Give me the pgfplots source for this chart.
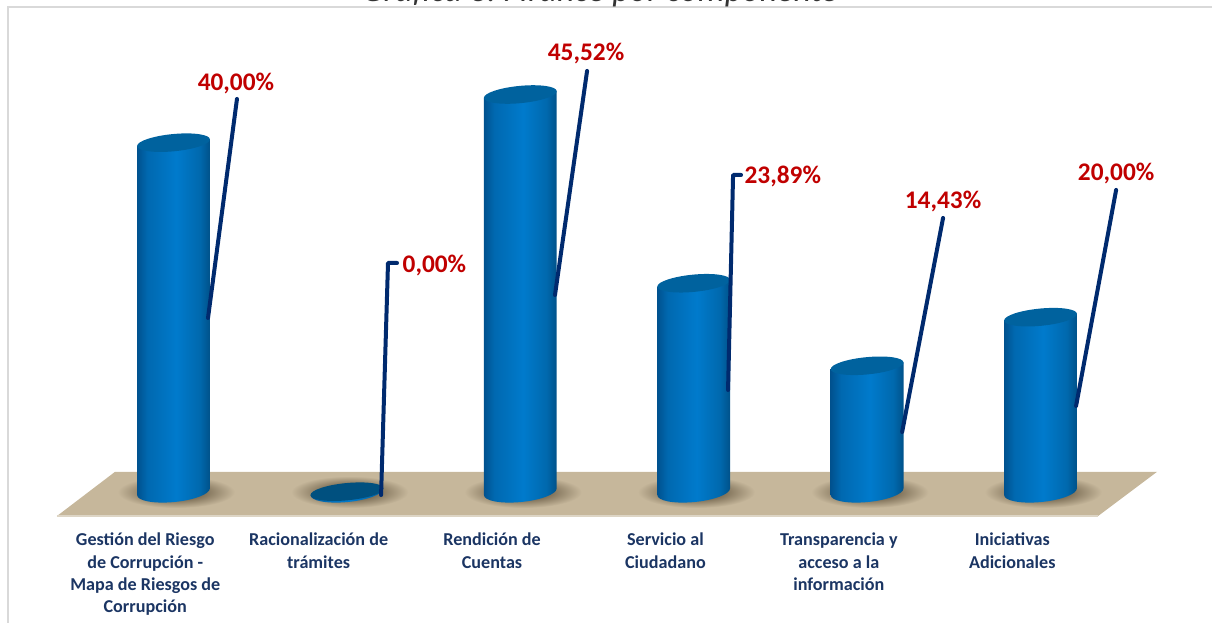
\documentclass[border=0pt]{standalone}
\usepackage{pgfplots}
\usepackage{pgfplotstable}
\pgfplotsset{compat=1.18}
\usepackage{fontspec}
\setmainfont{Carlito}

% 1 px of the reference = 0.75pt here
\definecolor{floorc}{HTML}{C6B79B}
\definecolor{floorrim}{HTML}{DDD5C5}
\definecolor{shadowc}{HTML}{75674F}
\definecolor{capc}{HTML}{00629E}
\definecolor{capzero}{HTML}{00507F}
\definecolor{leader}{HTML}{002A6E}
\definecolor{catc}{HTML}{1B3563}
\definecolor{valc}{HTML}{C00000}
\definecolor{framec}{HTML}{D9D9D9}

\pgfdeclarehorizontalshading{cylbody}{100bp}{
  rgb(0bp)=(0,0.32,0.56);
  rgb(25bp)=(0,0.32,0.56);
  rgb(32bp)=(0,0.41,0.69);
  rgb(52bp)=(0,0.48,0.80);
  rgb(68bp)=(0,0.41,0.68);
  rgb(75bp)=(0,0.32,0.54);
  rgb(100bp)=(0,0.32,0.54)}
\pgfdeclareradialshading{cylshadow}{\pgfpointorigin}{
  color(0bp)=(shadowc);
  color(10bp)=(shadowc);
  color(25bp)=(floorc);
  color(50bp)=(floorc)}

% whole cylinder hung from the data point (left end of the top ellipse)
\pgfdeclareplotmark{cyl}{%
  \pgfmathsetlengthmacro{\H}{\v*8.725*0.75}%
  \pgftransformcm{1}{0.0907}{0}{1}{\pgfpoint{0pt}{2.475pt}}%
  \path[draw=none, shading=cylbody] (-27.3pt,0pt) -- (-27.3pt,-\H)
    arc[start angle=180,end angle=360,x radius=27.3pt,y radius=7.8pt]
    -- (27.3pt,0pt) -- cycle;
  \ifdim\v pt<0.01pt \def\capfill{capzero}\else\def\capfill{capc}\fi
  \path[draw=none, fill=\capfill] (0pt,0pt) ellipse[x radius=27.3pt,y radius=6.5pt];}
\pgfdeclareplotmark{cylshade}{%
  \path[draw=none, shading=cylshadow] (2pt,2.25pt) ellipse[x radius=44pt,y radius=12pt];}

\pgfplotstableread{
x v
0 40.00
1 0.00
2 45.52
3 23.89
4 14.43
5 20.00
}\avance

\pgfplotstableread{
x y txt
0.360 47.14 40,00
2.379 50.56 45,52
4.438 33.60 14,43
5.436 36.81 20,00
}\lblup
\pgfplotstableread{
x y txt
1.320 26.26 0,00
3.292 36.48 23,89
}\lblside

\pgfplotsset{leaderline/.style={leader, line width=3pt, line cap=round, line join=round, no markers}}

\begin{document}
\begin{tikzpicture}
\useasboundingbox (0,0) rectangle (909pt,467.25pt);
\begin{axis}[
  at={(0,0)}, anchor=south west,
  scale only axis, width=909pt, height=467.25pt,
  xmin=-1.0006, xmax=5.989, ymin=-14.67, ymax=56.73,
  clip=false, clip mode=individual,
  axis line style={draw=none},
  ymajorticks=false,
  xtick={0,...,5},
  major tick length=0pt,
  xticklabels={
    {Gestión del Riesgo\\de Corrupción -\\Mapa de Riesgos de\\Corrupción},
    {Racionalización de\\trámites},
    {Rendición de\\Cuentas},
    {Servicio al\\Ciudadano},
    {Transparencia y\\acceso a la\\información},
    {Iniciativas\\Adicionales}},
  xticklabel style={align=center, anchor=north, yshift=71pt, xshift=-21.2pt, text=catc,
    font=\fontsize{13.6}{16.7}\selectfont\bfseries},
]
% frame and cut-off title
\draw[framec, line width=1.2pt] (axis cs:-0.955,-14.67) -- (axis cs:-0.955,55.9) -- (axis cs:5.989,55.9);
\node[anchor=base, inner sep=0pt, font=\fontsize{25.5}{26}\selectfont\itshape, text=black!80]
  at (axis cs:2.46,56.6) {Gráfica 3. Avance por componente};
% floor
\addplot[fill=floorc, draw=none] coordinates {(-0.672,-2.41) (5.332,-2.41) (5.672,2.66) (-0.337,2.66)} -- cycle;
\addplot[floorrim, line width=1pt, no markers] coordinates {(-0.672,-2.41) (5.332,-2.41)};
% shadows
\addplot[only marks, mark=cylshade] table[x=x, y expr=0] {\avance};
% cylinders
\addplot[scatter, only marks, mark=cyl, scatter src=y,
  visualization depends on={rawy \as \v},
] table[x=x, y=v] {\avance};
% leader lines
\addplot[leaderline] coordinates {(0.199,20.29) (0.366,45.39)};
\addplot[leaderline] coordinates {(1.197,0) (1.237,26.59) (1.289,26.59)};
\addplot[leaderline] coordinates {(2.200,22.92) (2.385,48.60)};
\addplot[leaderline] coordinates {(3.198,12.03) (3.227,36.68) (3.273,36.68)};
\addplot[leaderline] coordinates {(4.202,7.22) (4.438,31.75)};
\addplot[leaderline] coordinates {(5.205,10.20) (5.436,34.96)};
% value labels
\addplot[draw=none, no markers, nodes near coords={\pgfplotspointmeta\%}, point meta=explicit symbolic,
  every node near coord/.append style={anchor=center, text=valc, font=\fontsize{19}{20}\selectfont\bfseries}]
  table[x=x, y=y, meta=txt] {\lblup};
\addplot[draw=none, no markers, nodes near coords={\pgfplotspointmeta\%}, point meta=explicit symbolic,
  every node near coord/.append style={anchor=west, inner sep=0pt, text=valc, font=\fontsize{19}{20}\selectfont\bfseries}]
  table[x=x, y=y, meta=txt] {\lblside};
\end{axis}
\end{tikzpicture}
\end{document}
